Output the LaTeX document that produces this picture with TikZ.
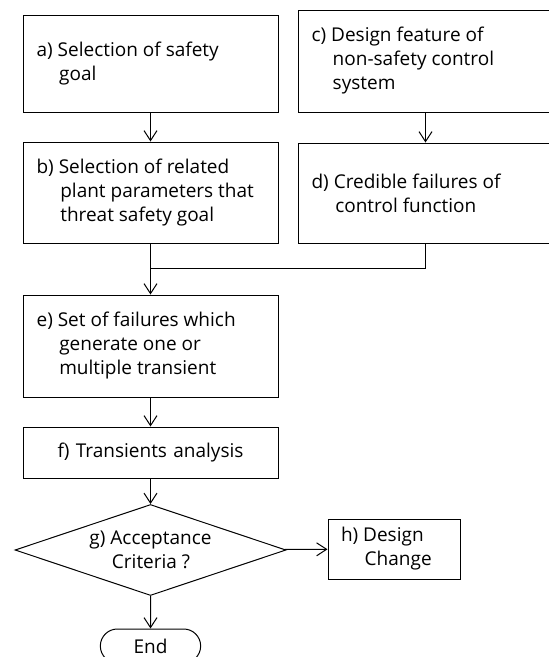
\documentclass[tikz,border=0pt]{standalone}
\usepackage{fontspec}
\setmainfont{Open Sans}
\usetikzlibrary{arrows.meta,shapes.geometric,shapes.misc}
\newcommand{\lbl}[1]{\hphantom{#1~}\hspace{1.5pt}}

\begin{document}
\begin{tikzpicture}[x=1pt,y=-1pt,line width=1pt,
  >={Straight Barb[length=10pt,width=13pt]},
  every node/.style={font=\fontsize{19}{24}\selectfont},
  stepbox/.style={draw, minimum width=255pt, inner xsep=13.6pt,
    text width=227.8pt, align=flush left}]
  \useasboundingbox (0,0) rectangle (549,657);
  \clip (0,0) rectangle (549,657);

  % left column
  \node[stepbox, minimum height=97pt] (selgoal) at (150.5,63.5)
    {a) Selection of safety\\\lbl{a)}goal};
  \node[stepbox, minimum height=101pt] (params) at (150.5,192.5)
    {b) Selection of related\\\lbl{b)}plant parameters that\\\lbl{b)}threat safety goal};
  % right column
  \node[stepbox, minimum height=102pt] (feature) at (425.5,61)
    {c) Design feature of\\\lbl{c)}non-safety control\\\lbl{c)}system};
  \node[stepbox, minimum height=100pt] (failures) at (425.5,193)
    {d) Credible failures of\\\lbl{d)}control function};
  % joined
  \node[stepbox, minimum height=102pt] (fset) at (150.5,346)
    {e) Set of failures which\\\lbl{e)}generate one or\\\lbl{e)}multiple transient};
  \node[stepbox, minimum height=51pt, align=center] (trans) at (150.5,452.5)
    {f) Transients analysis};
  \node[draw, diamond, aspect=2.98, inner sep=-4pt, minimum width=271pt,
    minimum height=91pt, align=left] (accept) at (150.5,550)
    {g) Acceptance\\\lbl{g)}Criteria ?};
  \node[draw, minimum width=132pt, minimum height=60pt, inner xsep=13pt,
    text width=106pt, align=flush left] (change) at (394,549)
    {h) Design\\\lbl{h)}Change};
  \node[draw, rounded rectangle, minimum width=107pt, minimum height=34pt]
    (finish) at (150.5,646) {End};

  % connectors
  \coordinate (join) at (150.5,268);
  \draw[->] (selgoal) -- (params);
  \draw[->] (feature) -- (failures);
  \draw (failures.south) |- (join);
  \draw[->] (params) -- (fset);
  \draw[->] (fset) -- (trans);
  \draw[->] (trans) -- (accept);
  \draw[->] (accept) -- (change);
  \draw[->] (accept) -- (finish);
\end{tikzpicture}
\end{document}
